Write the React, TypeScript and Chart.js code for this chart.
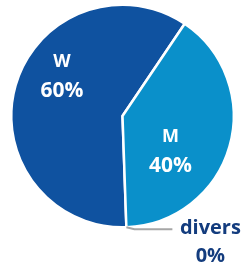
import React, { useEffect, useRef } from "react";
import { Chart, registerables } from "chart.js";

Chart.register(...registerables);

const categories = ["W", "M", "divers"];
const values = [60, 40, 0];
const percentLabels = ["60%", "40%", "0%"];
const colors = ["#0F52A0", "#0A90CA", "#7F7F7F"];

const FONT = "'Open Sans', 'Liberation Sans', sans-serif";

const labelPlugin = {
  id: "pieLabels",
  afterDatasetsDraw(chart: any) {
    const ctx = chart.ctx;
    const meta = chart.getDatasetMeta(0);
    const arcs = meta.data;
    const cx = arcs[0].x;
    const cy = arcs[0].y;
    const R = arcs[0].outerRadius;
    // polar placement of inner labels: angle from top (deg), fraction of radius
    const place: Record<number, [number, number]> = { 0: [303, 0.65], 1: [127, 0.54] };
    ctx.save();
    ctx.textAlign = "center";
    ctx.textBaseline = "middle";
    for (let i = 0; i < 2; i++) {
      const [deg, f] = place[i];
      const a = (deg * Math.PI) / 180;
      const x = cx + Math.sin(a) * R * f;
      const y = cy - Math.cos(a) * R * f;
      ctx.fillStyle = "#FFFFFF";
      ctx.font = `bold 18px ${FONT}`;
      ctx.fillText(categories[i], x, y - 15);
      ctx.font = `bold 21px ${FONT}`;
      ctx.fillText(percentLabels[i], x, y + 14);
    }
    // divers leader line + label
    const d = arcs[2];
    const sa = d.startAngle;
    const px = cx + Math.cos(sa) * R;
    const py = cy + Math.sin(sa) * R;
    ctx.strokeStyle = "#A6A6A6";
    ctx.lineWidth = 2;
    ctx.beginPath();
    ctx.moveTo(px, py);
    ctx.lineTo(px + 8, py + 2);
    ctx.lineTo(px + 46, py + 2);
    ctx.stroke();
    ctx.fillStyle = "#133C7E";
    ctx.font = `bold 20px ${FONT}`;
    const tx = px + 84;
    ctx.fillText(categories[2], tx, py + 1);
    ctx.fillText(percentLabels[2], tx, py + 29);
    ctx.restore();
  },
};

export default function App() {
  const ref = useRef<HTMLCanvasElement>(null);
  useEffect(() => {
    if (!ref.current) return;
    const chart = new Chart(ref.current, {
      type: "pie",
      data: {
        labels: categories,
        datasets: [
          {
            data: values,
            backgroundColor: colors,
            borderColor: "#FFFFFF",
            borderWidth: 2.5,
          },
        ],
      },
      options: {
        responsive: false,
        animation: false,
        devicePixelRatio: 1,
        rotation: 178,
        layout: { padding: { left: 10, right: 7, top: 3, bottom: 40 } },
        plugins: {
          legend: { display: false },
          tooltip: { enabled: false },
        },
      },
      plugins: [labelPlugin],
    });
    return () => chart.destroy();
  }, []);
  return (
    <>
      <style>{"body{margin:0}"}</style>
      <canvas ref={ref} width={242} height={269} style={{ display: "block" }} />
    </>
  );
}
